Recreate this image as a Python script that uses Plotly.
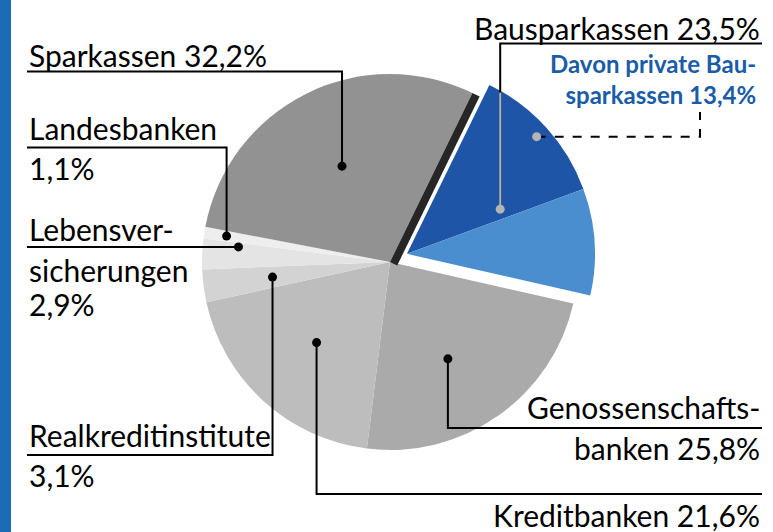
import math
import plotly.graph_objects as go

W, H = 773, 532

# ---------------- data ----------------
categories = ["Bausparkassen", "Genossenschaftsbanken", "Kreditbanken",
              "Realkreditinstitute", "Lebensversicherungen", "Landesbanken", "Sparkassen"]
shares = [23.5, 25.8, 21.6, 3.1, 2.9, 1.1, 32.2]
sub_categories = ["Davon private Bausparkassen", "Übrige Bausparkassen"]
sub_shares = [13.4, 10.1]

# ---------------- style / layout ----------------
gray_colors = ["rgba(0,0,0,0)", "#aaaaaa", "#bdbdbd", "#d3d3d3", "#e4e4e4", "#eeeeee", "#929292"]
blue_dark, blue_light = "#1f55a6", "#4a8ed0"
FONT = "Lato, Roboto, sans-serif"
FS = 30

CX, CY, R = 390, 262, 188
ROT = 26
PULL = 0.1

def pxx(x):
    return x / W

def pyy(y):
    return 1 - y / H

total = sum(shares)
starts = []
acc = ROT
for v in shares:
    starts.append(acc)
    acc += v / total * 360
spans = [v / total * 360 for v in shares]

bmid = starts[0] + spans[0] / 2
BCX = CX + PULL * R * math.sin(math.radians(bmid))
BCY = CY - PULL * R * math.cos(math.radians(bmid))

def point(cx, cy, ang, f):
    a = math.radians(ang)
    return cx + f * R * math.sin(a), cy - f * R * math.cos(a)

# position of each label dot: (fraction along slice, radial fraction)
dot_pos = [(0.5, 0.55), (0.55, 0.6), (0.5, 0.58), (0.5, 0.63), (0.84, 0.81), (0.5, 0.88), (0.5, 0.57)]
dots = []
for i in range(len(shares)):
    t, f = dot_pos[i]
    ang = starts[i] + t * spans[i]
    if i == 0:
        dots.append(point(BCX, BCY, ang, f))
    else:
        dots.append(point(CX, CY, ang, f))
sub_ang = starts[0] + (sub_shares[0] / total * 360) / 2
davon_dot = point(BCX, BCY, sub_ang, 0.93)

fig = go.Figure()

fig.add_trace(go.Pie(
    labels=categories, values=shares, sort=False, direction="clockwise", rotation=ROT,
    marker=dict(colors=gray_colors, line=dict(width=0)),
    textinfo="none", hoverinfo="skip", showlegend=False,
    domain=dict(x=[pxx(CX - R), pxx(CX + R)], y=[pyy(CY + R), pyy(CY - R)]),
))

fig.add_trace(go.Pie(
    labels=sub_categories + ["Rest"], values=sub_shares + [total - sum(sub_shares)],
    sort=False, direction="clockwise", rotation=ROT,
    marker=dict(colors=[blue_dark, blue_light, "rgba(0,0,0,0)"], line=dict(width=0)),
    textinfo="none", hoverinfo="skip", showlegend=False,
    domain=dict(x=[pxx(BCX - R), pxx(BCX + R)], y=[pyy(BCY + R), pyy(BCY - R)]),
))

shapes = []
# left blue bar
shapes.append(dict(type="rect", xref="paper", yref="paper", x0=0, x1=pxx(11), y0=0, y1=1,
                   fillcolor="#1a6db5", line=dict(width=0)))

# dark side face of Sparkassen slice along its edge with Bausparkassen
ea = math.radians(starts[0])
ex, ey = math.sin(ea), -math.cos(ea)
nx, ny = math.cos(ea), math.sin(ea)
p0 = (CX, CY)
p1 = (CX + R * ex, CY + R * ey)
off = 8
poly = [p0, p1, (p1[0] + off * nx, p1[1] + off * ny), (p0[0] + off * nx, p0[1] + off * ny)]
path = "M " + " L ".join(f"{pxx(x):.5f},{pyy(y):.5f}" for x, y in poly) + " Z"
shapes.append(dict(type="path", xref="paper", yref="paper", path=path,
                   fillcolor="#262626", line=dict(width=0), layer="above"))

def polyline(pts, color="black", width=2, dash="solid"):
    p = "M " + " L ".join(f"{pxx(x):.5f},{pyy(y):.5f}" for x, y in pts)
    shapes.append(dict(type="path", xref="paper", yref="paper", path=p,
                       line=dict(color=color, width=width, dash=dash), layer="above"))

LX, RX = 27, 762
d = dots
# Bausparkassen
polyline([(RX, 43.5), (d[0][0], 43.5), (d[0][0], d[0][1])])
rim_y = BCY - math.sqrt(R ** 2 - (d[0][0] - BCX) ** 2)
polyline([(d[0][0], rim_y + 2), (d[0][0], d[0][1])], color="#b4b4b4")
# Genossenschaftsbanken
polyline([(d[1][0], d[1][1]), (d[1][0], 428), (RX, 428)])
# Kreditbanken
polyline([(d[2][0], d[2][1]), (d[2][0], 494), (RX, 494)])
# Realkreditinstitute
polyline([(LX, 455), (d[3][0], 455), (d[3][0], d[3][1])])
# Lebensversicherungen
polyline([(LX, 247), (d[4][0], 247), (d[4][0], d[4][1])])
# Landesbanken
polyline([(LX, 147.5), (d[5][0], 147.5), (d[5][0], d[5][1])])
# Sparkassen
polyline([(LX, 71.5), (d[6][0], 71.5), (d[6][0], d[6][1])])
# Davon private
polyline([(davon_dot[0], davon_dot[1]), (700, davon_dot[1]), (700, 112)], dash="dash")

def dot(x, y, color, r=4.5):
    shapes.append(dict(type="circle", xref="paper", yref="paper",
                       x0=pxx(x - r), x1=pxx(x + r), y0=pyy(y + r), y1=pyy(y - r),
                       fillcolor=color, line=dict(width=0), layer="above"))

for i, (x, y) in enumerate(dots):
    dot(x, y, "#b4b4b4" if i == 0 else "black")
dot(davon_dot[0], davon_dot[1], "#b4b4b4")

ann = []
def text(t, x, y, anchor="left", color="black", size=FS, bold=False, align=None):
    if bold:
        t = "<b>" + t + "</b>"
    ann.append(dict(text=t, x=pxx(x), y=pyy(y), xref="paper", yref="paper",
                    xanchor=anchor, yanchor="middle", showarrow=False,
                    align=align or anchor,
                    font=dict(family=FONT, size=size, color=color)))

text(f"{categories[6]} 32,2%", LX, 55)
text("Landesbanken", LX, 128)
text("1,1%", LX, 168)
text("Lebensver-", LX, 229)
text("sicherungen", LX, 270)
text("2,9%", LX, 304)
text("Realkreditinstitute", LX, 435)
text("3,1%", LX, 475)
text("Bausparkassen 23,5%", RX, 28, anchor="right")
text("<b>Davon private Bau-</b><br><b>sparkassen 13,4%</b>", RX - 4, 79, anchor="right",
     color="#1a5ca8", size=24)
text("Genossenschafts-", RX, 407, anchor="right")
text("banken 25,8%", RX, 448, anchor="right")
text("Kreditbanken 21,6%", RX, 515, anchor="right")

fig.update_layout(
    width=W, height=H, margin=dict(l=0, r=0, t=0, b=0),
    paper_bgcolor="white", plot_bgcolor="white",
    shapes=shapes, annotations=ann, showlegend=False,
)

fig.write_html("out.html", config={"displayModeBar": False},
               post_script="document.body.style.margin='0';")
